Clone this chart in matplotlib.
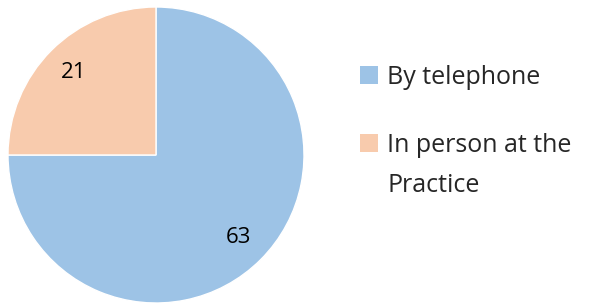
import matplotlib.pyplot as plt
from matplotlib.patches import Rectangle

labels = ["By telephone", "In person at the\nPractice"]
values = [63, 21]
colors = ["#9DC3E6", "#F8CBAD"]

plt.rcParams['font.family'] = ['Open Sans', 'DejaVu Sans']

W, H = 592, 303
fig = plt.figure(figsize=(W / 100, H / 100), dpi=100)
ax = fig.add_axes([8 / W, 0, 296 / W, 296 / H])

wedges, texts = ax.pie(values, colors=colors, startangle=90, counterclock=False,
                       labels=[str(v) for v in values], labeldistance=0.79,
                       wedgeprops=dict(edgecolor="white", linewidth=1))
for t in texts:
    t.set_fontsize(16)
    t.set_color("black")
    t.set_ha("center")
    t.set_va("center")
ax.set_xlim(-1, 1)
ax.set_ylim(-1, 1)
ax.set_aspect("equal")

# legend drawn by hand: square + label, first line aligned with square
legend_y = [84, 152]  # baseline of first line, px from top
for wedge, label, y in zip(wedges, labels, legend_y):
    fig.add_artist(Rectangle((360 / W, 1 - y / H), 18 / W, 18 / H,
                             transform=fig.transFigure,
                             facecolor=wedge.get_facecolor(), edgecolor="none"))
    lines = label.split("\n")
    for i, line in enumerate(lines):
        fig.text(387 / W, 1 - (y + 40 * i) / H, line, fontsize=18,
                 color="#262626", ha="left", va="baseline")

fig.savefig("out.png", dpi=100)
